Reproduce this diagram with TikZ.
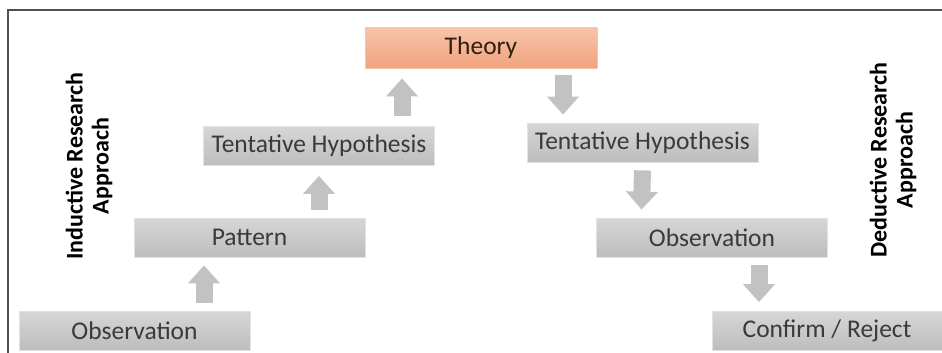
\documentclass[tikz,border=0pt]{standalone}
\usepackage{fontspec}
\setmainfont{Carlito}
\usetikzlibrary{arrows.meta}
\definecolor{boxtop}{HTML}{D6D6D6}
\definecolor{boxbot}{HTML}{BDBDBD}
\definecolor{boxedge}{HTML}{E2E2E2}
\definecolor{theorytop}{HTML}{F8C4A8}
\definecolor{theorybot}{HTML}{F0A27F}
\definecolor{arrowgray}{HTML}{C2C2C2}
\definecolor{textgray}{HTML}{3A3A3A}
\definecolor{framegray}{HTML}{505050}
\tikzset{
  stepbox/.style={draw=boxedge, line width=0.8pt, top color=boxtop, bottom color=boxbot,
    minimum width=231pt, minimum height=39pt, inner sep=0pt,
    text=textgray, font=\fontsize{25.5}{28}\selectfont},
  theorybox/.style={stepbox, draw=theorytop, top color=theorytop, bottom color=theorybot, text=black!75!brown},
  blockarrow/.style={draw=arrowgray, line width=17pt,
    -{Triangle[width=31pt,length=18pt]}, fill=arrowgray},
  sidelabel/.style={rotate=90, align=center, font=\fontsize{24}{26}\selectfont\bfseries, text=black}
}
\begin{document}
\begin{tikzpicture}[x=1pt,y=-1pt]
  \useasboundingbox (0,0) rectangle (942,353);
  % frame
  \draw[framegray, line width=1.5pt] (8,353) -- (8,10) -- (942,10);

  % inductive side
  \node[stepbox] (obsA) at (134.5,330.5) {Observation};
  \node[stepbox] (pat)  at (249.5,237.5) {Pattern};
  \node[stepbox] (hypA) at (319,146) {Tentative Hypothesis};
  \node[theorybox, minimum height=40pt, minimum width=232pt] (theory) at (481,48) {Theory};

  % deductive side
  \node[stepbox] (hypB) at (642.5,142.5) {Tentative Hypothesis};
  \node[stepbox] (obsB) at (712,237.5) {Observation};
  \node[stepbox, minimum width=230pt] (conf) at (827,331) {Confirm / Reject};

  % side labels
  \node[sidelabel] (ind) at (89,166) {Inductive Research\\Approach};
  \node[sidelabel] (ded) at (893,160) {Deductive Research\\Approach};

  % upward arrows
  \draw[blockarrow] ([xshift=69.5pt,yshift=8pt]obsA.north) -- ([xshift=-45.5pt,yshift=-8pt]pat.south);
  \draw[blockarrow] ([xshift=69.5pt,yshift=8pt]pat.north) -- ([yshift=-10pt]hypA.south);
  \draw[blockarrow] ([xshift=83pt,yshift=10pt]hypA.north) -- ([xshift=-79pt,yshift=-10pt]theory.south);
  % downward arrows
  \draw[blockarrow] ([xshift=82pt,yshift=-7pt]theory.south) -- ([xshift=-79.5pt,yshift=8pt]hypB.north);
  \draw[blockarrow] ([yshift=-8pt]hypB.south) -- ([xshift=-70.5pt,yshift=8pt]obsB.north);
  \draw[blockarrow] ([xshift=47pt,yshift=-8pt]obsB.south) -- ([xshift=-68pt,yshift=9pt]conf.north);
\end{tikzpicture}
\end{document}
